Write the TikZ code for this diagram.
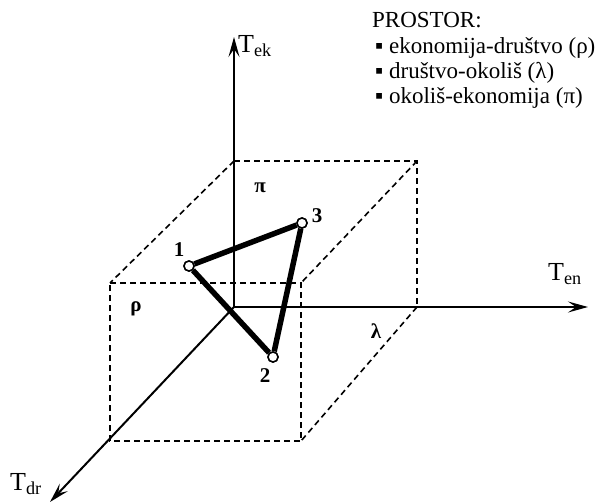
\documentclass[tikz,border=0pt]{standalone}
\usepackage{fontspec}
\setmainfont{Liberation Serif}
\usetikzlibrary{
  arrows.meta,
  positioning
}

\begin{document}
\begin{tikzpicture}[x=1pt,y=-1pt,>={Stealth[length=20pt,width=11pt,inset=8pt]},
  axis/.style={line width=2pt,->},
  hidden/.style={line width=1.6pt,dash pattern=on 6pt off 4pt},
  side/.style={line width=5.5pt},
  vertex/.style={circle,draw,fill=white,line width=1.5pt,inner sep=0pt,minimum size=10pt},
  numlab/.style={font=\fontsize{21}{21}\selectfont\bfseries,inner sep=0pt},
  axlab/.style={font=\fontsize{26}{26}\selectfont,inner sep=0pt},
  legend/.style={font=\fontsize{23}{25}\selectfont,inner sep=0pt,anchor=base west}]
  \useasboundingbox (0,0) rectangle (602,503);
  % axes
  \coordinate (O)  at (234,307);
  \coordinate (Ek) at (234,37);
  \coordinate (En) at (588,307);
  \coordinate (Dr) at (50,502);
  \draw[axis] (O) -- (Ek);
  \draw[axis] (O) -- (En);
  \draw[axis] (O) -- (Dr);
  \node[axlab,anchor=west] (Tek) at (238,46) {T\textsubscript{ek}};
  \node[axlab] (Ten) at (565,274) {T\textsubscript{en}};
  \node[axlab] (Tdr) at (26,484) {T\textsubscript{dr}};
  % back face
  \coordinate (B1) at (234,161);
  \coordinate (B2) at (417,161);
  \coordinate (B3) at (417,307);
  % front face
  \coordinate (F1) at (110,283);
  \coordinate (F2) at (301,283);
  \coordinate (F3) at (301,441);
  \coordinate (F4) at (110,441);
  \draw[hidden] (B1) -- (B2) -- (B3);
  \draw[hidden] (F1) -- (F2) -- (F3) -- (F4) -- cycle;
  \draw[hidden] (B1) -- (F1);
  \draw[hidden] (B2) -- (F2);
  \draw[hidden] (B3) -- (F3);
  % planes
  \node[numlab] (pi)  at (260,188) {π};
  \node[numlab] (rho) at (136,309) {ρ};
  \node[numlab] (lam) at (376,331) {λ};
  % triangle
  \node[vertex] (P1) at (189,266) {};
  \node[vertex] (P2) at (273,357) {};
  \node[vertex] (P3) at (302,223) {};
  \draw[side] (P1) -- (P3);
  \draw[side] (P3) -- (P2);
  \draw[side] (P2) -- (P1);
  \node[vertex] at (P1) {};
  \node[vertex] at (P2) {};
  \node[vertex] at (P3) {};
  \node[numlab] (n1) at (179,250) {1};
  \node[numlab] (n2) at (265,376) {2};
  \node[numlab] (n3) at (317,216) {3};
  % legend
  \node[legend] (leg0) at (372,28)  {PROSTOR:};
  \node[legend] (leg1) at (375,53)  {▪ ekonomija-društvo (ρ)};
  \node[legend] (leg2) at (375,78)  {▪ društvo-okoliš (λ)};
  \node[legend] (leg3) at (375,103) {▪ okoliš-ekonomija (π)};
\end{tikzpicture}
\end{document}
